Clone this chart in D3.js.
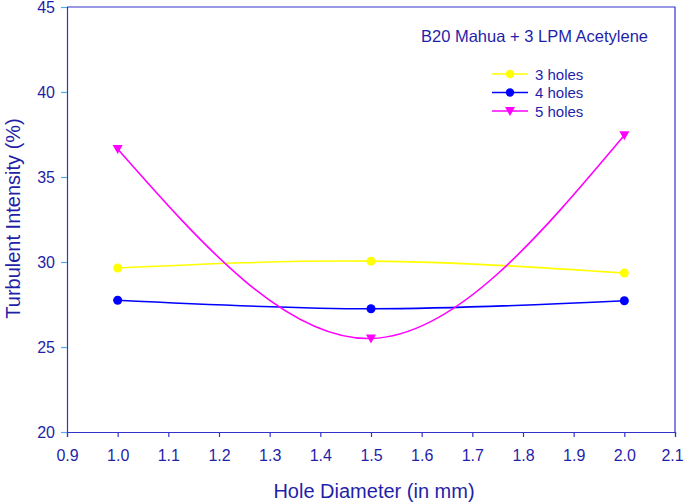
<!DOCTYPE html>
<html>
<head>
<meta charset="utf-8">
<script src="https://cdn.jsdelivr.net/npm/d3@7"></script>
<style>
  body { margin: 0; background: #fff; }
  svg { display: block; font-family: "Liberation Sans", Arial, sans-serif; }
</style>
</head>
<body>
<svg id="chart" width="685" height="502"></svg>
<script>
// values
var diameters = [1.0, 1.5, 2.0];
var holes3 = [29.65, 30.05, 29.35];
var holes4 = [27.75, 27.25, 27.72];
var holes5 = [36.65, 25.5, 37.45];
var seriesNames = ["3 holes", "4 holes", "5 holes"];
var xTicks = [0.9, 1.0, 1.1, 1.2, 1.3, 1.4, 1.5, 1.6, 1.7, 1.8, 1.9, 2.0, 2.1];
var yTicks = [20, 25, 30, 35, 40, 45];

var textColor = "#1f1fa8";
var axisColor = "#3333cc";

var margin = { top: 7, right: 10, bottom: 70, left: 67 };
var width = 685 - margin.left - margin.right;
var height = 502 - margin.top - margin.bottom;

var svg = d3.select("#chart")
    .append("g")
    .attr("transform", "translate(" + margin.left + "," + margin.top + ")");

var xScale = d3.scaleLinear().domain([0.9, 2.1]).range([0, width]);
var yScale = d3.scaleLinear().domain([20, 45]).range([height, 0]);

// frame top and right
svg.append("path")
    .attr("d", "M0,0H" + width + "V" + height)
    .attr("fill", "none")
    .attr("stroke", axisColor)
    .attr("stroke-width", 1.2);

// x axis
var xAxis = svg.append("g")
    .attr("transform", "translate(0," + height + ")")
    .call(d3.axisBottom(xScale)
        .tickValues(xTicks)
        .tickSizeOuter(0)
        .tickSize(5)
        .tickPadding(13)
        .tickFormat(d3.format(".1f")));
xAxis.select(".domain").attr("stroke", axisColor).attr("stroke-width", 1.2);
xAxis.selectAll(".tick line").attr("stroke", axisColor).attr("stroke-width", 1.2);
xAxis.selectAll(".tick text")
    .attr("fill", textColor)
    .style("font-size", "16px")
    .style("font-family", "Liberation Sans, Arial, sans-serif");
// last label sits at the page edge, nudge it in
xAxis.selectAll(".tick:last-of-type text").attr("dx", -3);

// y axis
var yAxis = svg.append("g")
    .call(d3.axisLeft(yScale)
        .tickValues(yTicks)
        .tickSizeOuter(0)
        .tickSize(6)
        .tickPadding(6));
yAxis.select(".domain").attr("stroke", axisColor).attr("stroke-width", 1.2);
yAxis.selectAll(".tick line").attr("stroke", "#55aaee").attr("stroke-width", 1.2);
yAxis.selectAll(".tick text")
    .attr("fill", textColor)
    .style("font-size", "16px")
    .style("font-family", "Liberation Sans, Arial, sans-serif");

// axis labels
svg.append("text")
    .attr("x", width / 2 + 3)
    .attr("y", height + 66)
    .attr("text-anchor", "middle")
    .attr("fill", textColor)
    .style("font-size", "20px")
    .text("Hole Diameter (in mm)");

svg.append("text")
    .attr("transform", "rotate(-90)")
    .attr("x", -height / 2 + 1)
    .attr("y", -47)
    .attr("text-anchor", "middle")
    .attr("fill", textColor)
    .style("font-size", "20px")
    .text("Turbulent Intensity (%)");

var line = d3.line()
    .x(function(d) { return xScale(d.x); })
    .y(function(d) { return yScale(d.y); })
    .curve(d3.curveNatural);

var series = [
    { name: seriesNames[0], values: holes3, color: "#ffff00", marker: "circle" },
    { name: seriesNames[1], values: holes4, color: "#0000ff", marker: "circle" },
    { name: seriesNames[2], values: holes5, color: "#ff00ff", marker: "tri" }
];

var triDown = "M-5,-4L5,-4L0,5Z";

series.forEach(function(s) {
    var pts = diameters.map(function(x, i) { return { x: x, y: s.values[i] }; });
    svg.append("path")
        .datum(pts)
        .attr("d", line)
        .attr("fill", "none")
        .attr("stroke", s.color)
        .attr("stroke-width", 1.6);
    if (s.marker === "circle") {
        svg.selectAll(null)
            .data(pts)
            .enter().append("circle")
            .attr("cx", function(d) { return xScale(d.x); })
            .attr("cy", function(d) { return yScale(d.y); })
            .attr("r", 4.5)
            .attr("fill", s.color);
    } else {
        svg.selectAll(null)
            .data(pts)
            .enter().append("path")
            .attr("d", triDown)
            .attr("transform", function(d) { return "translate(" + xScale(d.x) + "," + yScale(d.y) + ")"; })
            .attr("fill", s.color);
    }
});

// title inside plot
svg.append("text")
    .attr("x", 421 - margin.left)
    .attr("y", 42 - margin.top)
    .attr("fill", textColor)
    .style("font-size", "16.5px")
    .text("B20 Mahua + 3 LPM Acetylene");

// legend
var legend = svg.append("g")
    .attr("transform", "translate(" + (492 - margin.left) + "," + (74 - margin.top) + ")");
series.forEach(function(s, i) {
    var g = legend.append("g").attr("transform", "translate(0," + i * 18.5 + ")");
    g.append("line")
        .attr("x1", 0).attr("x2", 36)
        .attr("stroke", s.color)
        .attr("stroke-width", 1.6);
    if (s.marker === "circle") {
        g.append("circle").attr("cx", 18).attr("r", 4.2).attr("fill", s.color);
    } else {
        g.append("path").attr("d", triDown).attr("transform", "translate(18,0)").attr("fill", s.color);
    }
    g.append("text")
        .attr("x", 43)
        .attr("y", 5.5)
        .attr("fill", textColor)
        .style("font-size", "15px")
        .text(s.name);
});
</script>
</body>
</html>
